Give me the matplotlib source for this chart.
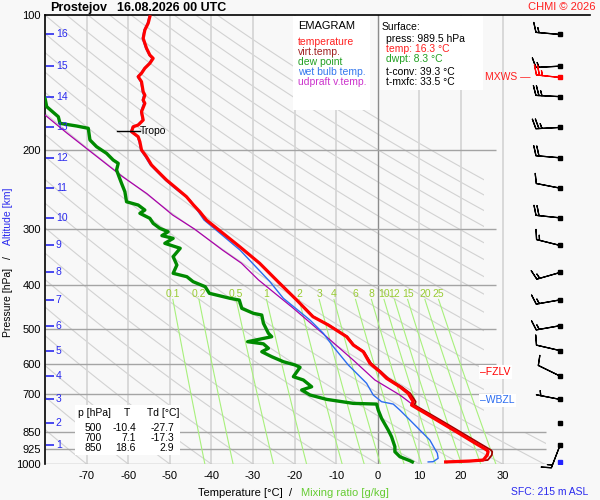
import numpy as np
import matplotlib
matplotlib.use('Agg')
import matplotlib.pyplot as plt
from matplotlib.patches import Polygon, Rectangle

plt.rcParams['font.family'] = ['Liberation Sans', 'DejaVu Sans']

# ---- sounding data ----
temp_p = [100.9, 104.3, 108.0, 112.7, 118.6, 122.8, 124.9, 128.1, 131.4, 134.8,
          137.2, 140.8, 148.2, 150.8, 154.7, 157.3, 164.2, 171.4, 175.8, 177.4,
          181.9, 186.7, 191.5, 199.8, 206.9, 215.8, 223.4, 233.1, 243.2, 253.9,
          265.0, 274.2, 286.2, 306.4, 328.1, 357.3, 395.9, 431.4, 469.8, 490.3,
          520.6, 543.3, 562.3, 596.9, 623.1, 644.6, 672.9, 696.1, 726.5, 739.2,
          771.5, 812.0, 850.0, 900.0, 931.0, 939.0, 955.0, 971.0, 980.0, 985.0, 989.5]
temp_t = [-54.8, -55.2, -56.0, -56.4, -55.6, -54.8, -54.0, -54.8, -56.0, -56.8,
          -57.6, -56.8, -56.4, -56.0, -56.4, -56.0, -56.8, -56.4, -57.6, -58.8,
          -59.2, -57.6, -57.2, -56.8, -55.6, -54.4, -52.8, -50.8, -48.4, -46.0,
          -44.3, -42.8, -41.2, -37.2, -33.2, -28.4, -23.6, -19.5, -15.6, -11.9,
          -7.5, -5.9, -3.5, -1.9, 0.5, 2.1, 5.3, 7.3, 8.5, 8.1,
          11.5, 15.5, 19.1, 23.5, 26.2, 26.5, 26.3, 25.7, 25.3, 22.0, 16.3]

virt_p = [395.9, 431.4, 469.8, 490.3, 520.6, 543.3, 562.3, 596.9, 623.1, 644.6,
          672.9, 696.1, 726.5, 739.2, 771.5, 812.0, 850.0, 900.0, 931.0, 939.0,
          955.0, 971.0, 980.0, 985.0, 989.5]
virt_t = [-23.5, -19.4, -15.5, -11.8, -7.3, -5.7, -3.3, -1.6, 0.8, 2.5,
          5.7, 7.8, 9.1, 8.8, 12.3, 16.4, 20.0, 24.5, 27.2, 27.5,
          27.4, 26.8, 26.4, 23.2, 17.6]

dwpt_p = [140.0, 153.1, 160.0, 168.5, 174.3, 176.7, 178.8, 189.8, 196.5, 203.3,
          210.4, 214.0, 221.4, 229.2, 237.1, 247.5, 260.6, 265.0, 271.9, 276.5,
          283.7, 291.1, 298.6, 303.9, 310.0, 314.4, 322.5, 330.8, 345.3, 360.5,
          376.1, 382.7, 392.6, 402.8, 416.7, 427.6, 431.4, 450.1, 461.8, 465.8,
          486.0, 511.6, 520.6, 534.1, 540.0, 552.5, 562.3, 576.8, 591.8, 601.8,
          609.0, 639.1, 650.0, 672.9, 684.2, 702.0, 717.9, 732.8, 735.4, 758.4,
          791.4, 840.3, 869.6, 915.3, 939.1, 963.3, 983.2, 989.5]
dwpt_t = [-85.0, -80.0, -79.6, -76.8, -76.4, -72.4, -69.6, -69.2, -67.6, -65.2,
          -63.6, -62.4, -62.8, -62.2, -61.6, -60.8, -60.4, -57.6, -56.0, -57.2,
          -54.8, -54.0, -52.4, -50.4, -51.9, -49.2, -51.2, -47.5, -49.2, -48.3,
          -49.2, -45.9, -44.4, -41.5, -40.5, -35.5, -33.3, -32.7, -29.9, -27.9,
          -27.5, -26.3, -25.5, -31.3, -27.5, -26.3, -27.9, -25.5, -22.7, -19.9,
          -18.7, -20.3, -17.9, -15.9, -18.3, -16.3, -12.3, -5.9, -0.3, 0.1,
          0.9, 2.5, 3.3, 4.1, 4.1, 5.3, 7.7, 8.3]

wetb_p = [100.9, 104.3, 108.0, 112.7, 118.6, 122.8, 124.9, 128.1, 131.4, 134.8,
          137.2, 140.8, 148.2, 150.8, 154.7, 157.3, 164.2, 171.4, 175.8, 177.4,
          181.9, 186.7, 191.5, 199.8, 206.9, 215.8, 223.4, 233.1, 243.2, 258.3,
          286.0, 306.0, 334.0, 392.0, 427.6, 478.0, 511.6, 548.0, 601.8, 628.0,
          661.0, 702.0, 726.5, 735.4, 758.4, 798.0, 840.3, 884.4, 946.8, 971.2,
          988.3, 989.5]
wetb_t = [-55.0, -55.4, -56.2, -56.6, -55.8, -55.0, -54.3, -55.0, -56.2, -57.0,
          -57.8, -57.0, -56.6, -56.3, -56.6, -56.3, -57.0, -56.6, -57.8, -59.0,
          -59.4, -57.8, -57.4, -57.0, -55.9, -54.7, -53.1, -51.1, -48.8, -45.1,
          -41.8, -38.0, -33.1, -26.0, -22.7, -16.3, -13.1, -10.7, -7.1, -5.1,
          -2.7, -1.1, 0.9, 3.7, 5.3, 7.7, 10.1, 12.5, 14.3, 14.5,
          13.3, 12.1]

parcel_p = [167, 183, 200, 229, 250, 279, 300, 334, 357, 389, 450, 521, 587, 650, 702, 739]
parcel_t = [-80.0, -74.8, -69.5, -61.4, -55.5, -49.3, -44.0, -37.3, -32.8, -28.7,
            -20.3, -12.3, -5.9, -0.7, 5.3, 8.5]

# heights of the km marks and the wind at those levels
km_levels = [1, 2, 3, 4, 5, 6, 7, 8, 9, 10, 11, 12, 13, 14, 15, 16]
km_p = [908, 810, 718, 637, 559, 492, 431, 374.5, 326, 283, 243, 208, 178, 152, 130, 110.5]
wind_dir = [201, 0, 281, 296, 283, 260, 260, 254, 284, 276, 281, 275, 267, 273, 267, 275]
wind_spd = [15, 0, 5, 10, 10, 15, 15, 15, 15, 20, 10, 20, 25, 25, 15, 15]

mxws_p, mxws_dir, mxws_spd = 137.7, 276, 25
sfc_p = 989.5
tropo_p, tropo_t = 181.0, -59.0
fzlv_p, wbzl_p = 624.0, 722.0

press_ticks = [100, 200, 300, 400, 500, 600, 700, 850, 925, 1000]
temp_ticks = [-70, -60, -50, -40, -30, -20, -10, 0, 10, 20, 30]
mix_vals = [0.1, 0.2, 0.5, 1, 2, 3, 4, 6, 8, 10, 12, 15, 20, 25]
mix_labels = ['0.1', '0.2', '0.5', '1', '2', '3', '4', '6', '8', '10', '12', '15', '20', '25']

table_rows = [('500', '-10.4', '-27.7'), ('700', '7.1', '-17.3'), ('850', '18.6', '2.9')]

W, H = 600, 500
def fx(x):
    return x / W
def fy(y):
    return 1 - y / H

fig = plt.figure(figsize=(6, 5), dpi=100)
fig.patch.set_facecolor('#f8f8f8')
ax = fig.add_axes([fx(45), fy(464), 545 / W, 449 / H])
ax.set_facecolor('#f8f8f8')
ax.set_yscale('log')
ax.set_ylim(1000, 100)
ax.set_xlim(-80, 51)

# dry adiabats (background)
clip = Polygon([(-80, 100), (25.5, 100), (25.5, 850), (40.5, 850), (40.5, 1000), (-80, 1000)],
               closed=True, transform=ax.transData, fc='none', ec='none')
pp = np.geomspace(100, 1000, 120)
for th in range(-80, 190, 10):
    tt = (th + 273.15) * (pp / 1000.0) ** 0.286 - 273.15
    ln, = ax.plot(tt, pp, color='#d2d2d2', lw=0.8, zorder=1)
    ln.set_clip_path(clip)

# isotherms and isobars
for t in temp_ticks:
    if t == 0:
        ax.axvline(t, color='#8c8c8c', lw=1.0, zorder=1.6)
    else:
        ax.axvline(t, color='#d6d6d6', lw=1.3, zorder=1.5)
ax.hlines([200, 300, 400, 500, 600, 700], -80, 28.3, color='#a4a4a4', lw=1.0, zorder=1.7)
ax.hlines([850, 925, 1000], -80, 40.4, color='#a4a4a4', lw=1.0, zorder=1.7)

# saturation mixing ratio lines
def t_for_w(w, p):
    e = w * p / (622.0 + w)
    a = np.log(e / 6.112)
    return 243.5 * a / (17.67 - a)

pw = np.geomspace(430, 1000, 40)
for w, lab in zip(mix_vals, mix_labels):
    ax.plot(t_for_w(w, pw), pw, color='#a8f07c', lw=0.8, zorder=2)
    ax.text(t_for_w(w, 430), 419, lab, color='#99cc33', fontsize=7.5,
            ha='center', va='center', zorder=2)

# profiles
ax.plot(parcel_t, parcel_p, color='#aa00aa', lw=0.9, zorder=4)
ax.plot(wetb_t, wetb_p, color='#2b6cf0', lw=1.0, zorder=4)
ax.plot(dwpt_t, dwpt_p, color='#008a00', lw=2.4, zorder=5)
ax.plot(virt_t, virt_p, color='#a00000', lw=1.3, zorder=5)
ax.plot(temp_t, temp_p, color='#ff0000', lw=2.3, zorder=6)

# tropopause
ax.plot([tropo_t - 3.7, tropo_t + 1.8], [tropo_p, tropo_p], color='black', lw=1.0, zorder=7)
ax.text(tropo_t + 1.9, tropo_p, 'Tropo', fontsize=7.5, va='center', ha='left', zorder=7)

# km marks on the left
ax.plot(np.full(len(km_p), -78.8), km_p, ls='none', marker='_', ms=6, mew=1.2,
        color='#2a2aee', zorder=7)
for k, p in zip(km_levels, km_p):
    ax.text(-77.4, p, str(k), color='#2a2aee', fontsize=7.5, va='center', ha='left', zorder=7)

# winds
wx = 43.8
spd = np.array(wind_spd, dtype=float)
wd = np.radians(wind_dir)
u = -spd * np.sin(wd)
v = -spd * np.cos(wd)
m = spd > 0
ax.barbs(np.full(m.sum(), wx), np.array(km_p)[m], u[m], v[m], length=5.9,
         lw=0.9, color='black', zorder=7, clip_on=False)
ax.plot(np.full(len(km_p), wx), km_p, ls='none', marker='s', ms=2.3, color='black', zorder=8)
mr = np.radians(mxws_dir)
ax.barbs([wx], [mxws_p], [-mxws_spd * np.sin(mr)], [-mxws_spd * np.cos(mr)], length=5.9,
         lw=0.9, color='red', zorder=8)
ax.plot([wx], [mxws_p], ls='none', marker='s', ms=2.3, color='red', zorder=8)
ax.plot([wx], [sfc_p], ls='none', marker='s', ms=2.3, color='#2222ff', zorder=8)
ax.text(36.6, mxws_p, 'MXWS \u2014', color='#ff2020', fontsize=7.5, ha='right', va='center', zorder=8)

# freezing / wet bulb zero levels
ax.text(24.6, fzlv_p, '\u2013FZLV', color='#ff0000', fontsize=7.5, va='center', ha='left', zorder=8,
        bbox=dict(fc='white', ec='none', pad=1.2))
ax.text(24.6, wbzl_p, '\u2013WBZL', color='#2b6cf0', fontsize=7.5, va='center', ha='left', zorder=8,
        bbox=dict(fc='white', ec='none', pad=1.2))

# axes look
ax.set_yticks(press_ticks)
ax.set_yticklabels([str(p) for p in press_ticks], fontsize=8)
ax.yaxis.set_minor_locator(matplotlib.ticker.NullLocator())
ax.set_xticks(temp_ticks)
ax.set_xticklabels([str(t) for t in temp_ticks], fontsize=8)
ax.tick_params(axis='both', length=0)
ax.tick_params(axis='y', pad=3)
ax.tick_params(axis='x', pad=5)
ax.spines['right'].set_visible(False)
ax.spines['bottom'].set_visible(False)
ax.spines['top'].set_linewidth(1.2)
ax.spines['left'].set_linewidth(1.2)

# white boxes
for x0, y0, x1, y1 in [(293, 16, 370, 110), (380, 16, 483, 90), (75, 405, 180, 455)]:
    fig.add_artist(Rectangle((fx(x0), fy(y1)), (x1 - x0) / W, (y1 - y0) / H,
                             transform=fig.transFigure, fc='white', ec='none', zorder=1))

# legend
fig.text(fx(298), fy(26), 'EMAGRAM', fontsize=8, va='center', zorder=3)
leg = [('temperature', '#ff2020'), ('virt.temp.', '#a02020'), ('dew point', '#22a022'),
       ('wet bulb temp.', '#3377ee'), ('udpraft v.temp.', '#cc33cc')]
for i, (s, c) in enumerate(leg):
    fig.text(fx(298), fy(42 + 10 * i), s, color=c, fontsize=7.5, va='center', zorder=3)

# surface info
fig.text(fx(382), fy(27), 'Surface:', fontsize=7.5, va='center', zorder=3)
fig.text(fx(386), fy(39), 'press: 989.5 hPa', fontsize=7.5, va='center', zorder=3)
fig.text(fx(386), fy(49), 'temp: 16.3 \u00b0C', color='#ff2020', fontsize=7.5, va='center', zorder=3)
fig.text(fx(386), fy(59), 'dwpt: 8.3 \u00b0C', color='#22a022', fontsize=7.5, va='center', zorder=3)
fig.text(fx(386), fy(72), 't-conv: 39.3 \u00b0C', fontsize=7.5, va='center', zorder=3)
fig.text(fx(386), fy(82), 't-mxfc: 33.5 \u00b0C', fontsize=7.5, va='center', zorder=3)

# standard level table
fig.text(fx(78), fy(413), 'p [hPa]', fontsize=7.5, va='center', zorder=3)
fig.text(fx(127), fy(413), 'T', fontsize=7.5, va='center', ha='center', zorder=3)
fig.text(fx(147), fy(413), 'Td [\u00b0C]', fontsize=7.5, va='center', zorder=3)
for i, (a, b, c) in enumerate(table_rows):
    yy = fy(428 + 10 * i)
    fig.text(fx(102), yy, a, fontsize=7.5, va='center', ha='right', zorder=3)
    fig.text(fx(136), yy, b, fontsize=7.5, va='center', ha='right', zorder=3)
    fig.text(fx(174), yy, c, fontsize=7.5, va='center', ha='right', zorder=3)

# titles and labels
fig.text(fx(50), fy(8), 'Prostejov', fontsize=9, weight='bold', va='center')
fig.text(fx(117), fy(8), '16.08.2026 00 UTC', fontsize=9, weight='bold', va='center')
fig.text(fx(596), fy(7), 'CHMI \u00a9 2026', color='#ff2020', fontsize=8, ha='right', va='center')
fig.text(fx(8), fy(302), 'Pressure [hPa]', fontsize=7.5, rotation=90, ha='center', va='center')
fig.text(fx(8), fy(258), '/', fontsize=7.5, rotation=90, ha='center', va='center')
fig.text(fx(8), fy(216), 'Altitude [km]', color='#2a2aee', fontsize=7.5, rotation=90,
         ha='center', va='center')
fig.text(fx(240), fy(493), 'Temperature [\u00b0C]', fontsize=8, ha='center', va='center')
fig.text(fx(291), fy(493), '/', fontsize=8, ha='center', va='center')
fig.text(fx(345), fy(493), 'Mixing ratio [g/kg]', color='#66cc33', fontsize=8, ha='center', va='center')
fig.text(fx(588), fy(492), 'SFC: 215 m ASL', color='#2a2aee', fontsize=7.5, ha='right', va='center')

fig.savefig('out.png', dpi=100, facecolor=fig.get_facecolor())
